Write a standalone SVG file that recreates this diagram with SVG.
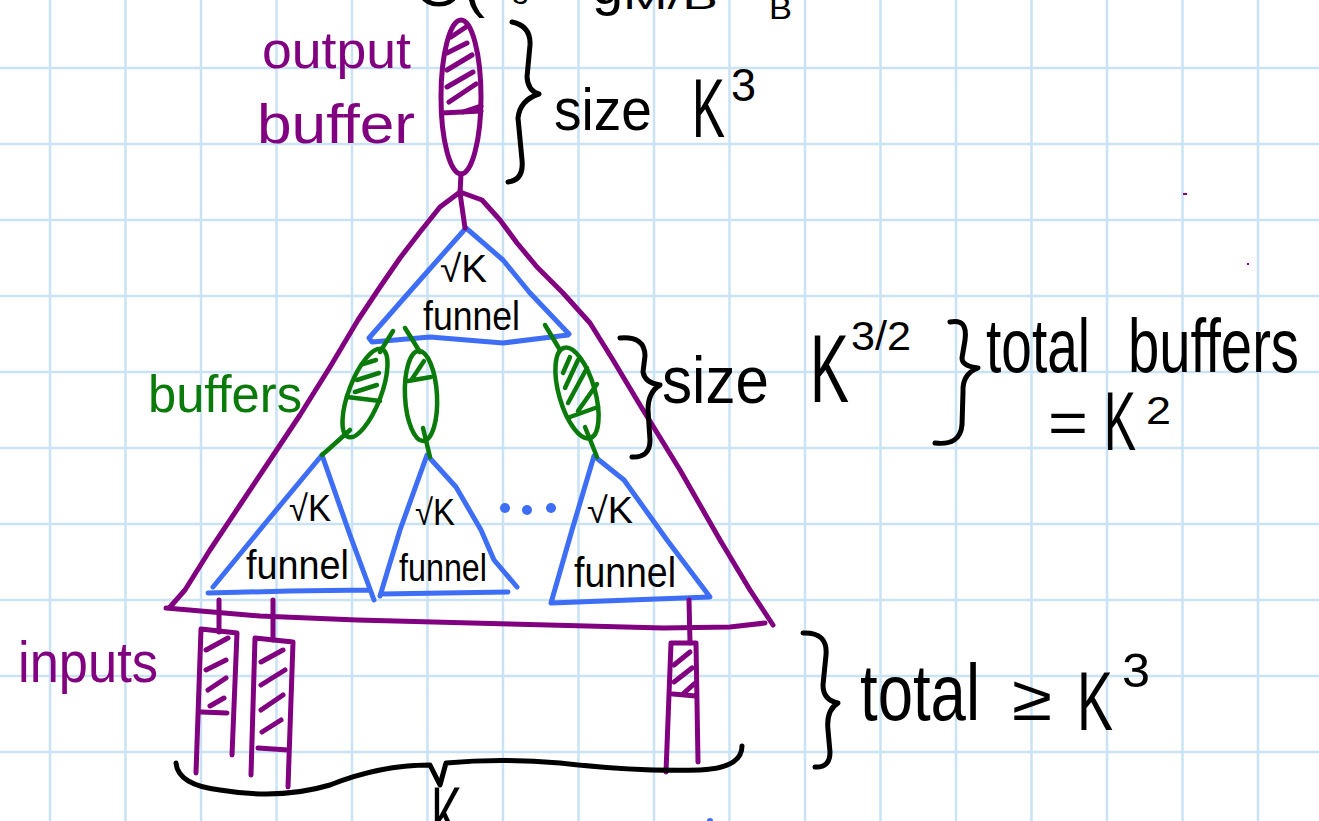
<svg xmlns="http://www.w3.org/2000/svg" width="1319" height="821" viewBox="0 0 1319 821">
<style>
.grid line{stroke:#c9e2f4;stroke-width:2.5}
.p{fill:none;stroke:#800080;stroke-width:5;stroke-linecap:round;stroke-linejoin:round}
.b{fill:none;stroke:#3d6ef5;stroke-width:5;stroke-linecap:round;stroke-linejoin:round}
.g{fill:none;stroke:#0a7a0a;stroke-width:4.5;stroke-linecap:round;stroke-linejoin:round}
.k{fill:none;stroke:#000;stroke-width:5;stroke-linecap:round;stroke-linejoin:round}
text{font-family:"Liberation Sans","DejaVu Sans",sans-serif}
.tk{fill:#000}
.tp{fill:#800080}
.tg{fill:#0a7a0a}
</style>
<rect width="1319" height="821" fill="#fff"/>
<g class="grid">
<line x1="50" y1="0" x2="50" y2="821"/><line x1="125.5" y1="0" x2="125.5" y2="821"/><line x1="201" y1="0" x2="201" y2="821"/><line x1="276.5" y1="0" x2="276.5" y2="821"/><line x1="352" y1="0" x2="352" y2="821"/><line x1="427.5" y1="0" x2="427.5" y2="821"/><line x1="503" y1="0" x2="503" y2="821"/><line x1="578.5" y1="0" x2="578.5" y2="821"/><line x1="654" y1="0" x2="654" y2="821"/><line x1="729.5" y1="0" x2="729.5" y2="821"/><line x1="805" y1="0" x2="805" y2="821"/><line x1="880.5" y1="0" x2="880.5" y2="821"/><line x1="956" y1="0" x2="956" y2="821"/><line x1="1031.5" y1="0" x2="1031.5" y2="821"/><line x1="1107" y1="0" x2="1107" y2="821"/><line x1="1182.5" y1="0" x2="1182.5" y2="821"/><line x1="1258" y1="0" x2="1258" y2="821"/>
<line x1="0" y1="68" x2="1319" y2="68"/><line x1="0" y1="144" x2="1319" y2="144"/><line x1="0" y1="220" x2="1319" y2="220"/><line x1="0" y1="296" x2="1319" y2="296"/><line x1="0" y1="372" x2="1319" y2="372"/><line x1="0" y1="448" x2="1319" y2="448"/><line x1="0" y1="524" x2="1319" y2="524"/><line x1="0" y1="600" x2="1319" y2="600"/><line x1="0" y1="676" x2="1319" y2="676"/><line x1="0" y1="752" x2="1319" y2="752"/>
</g>

<!-- formula cut off by the top edge: only the bottoms of its glyphs show -->
<g id="top-formula" class="tk">
<text x="414" y="6" font-size="60" textLength="71" lengthAdjust="spacingAndGlyphs">O(</text>
<text x="512" y="4" font-size="30">3</text>
<text x="592" y="4" font-size="56">g</text>
<text x="623" y="9" font-size="34" textLength="95" lengthAdjust="spacingAndGlyphs">M/B</text>
<text x="769" y="19" font-size="32" textLength="23" lengthAdjust="spacingAndGlyphs">B</text>
</g>

<g id="output-buffer">
<ellipse class="p" cx="461" cy="97" rx="20" ry="77"/>
<path class="p" d="M442,113 L481,111"/>
<path class="p" d="M451,37 L466,27 M447,53 L467,43 M447,70 L472,55 M447,87 L473,72 M449,102 L476,84 M463,112 L481,106"/>
<text class="tp" x="262" y="68" font-size="52" textLength="149" lengthAdjust="spacingAndGlyphs">output</text>
<text class="tp" x="257" y="143" font-size="56" textLength="158" lengthAdjust="spacingAndGlyphs">buffer</text>
</g>

<g id="big-funnel">
<polyline class="p" points="460,192 440,207 420,232 400,258 380,287 358,320 330,367 300,415 270,460 240,505 210,550 185,590 170,607"/>
<polyline class="p" points="460,192 482,200 500,220 517,243 537,267 563,293 590,323 613,360 640,405 680,470 720,540 750,590 773,625"/>
<polyline class="p" points="166,608 260,616 357,620 510,624 663,628 730,627 765,623"/>
</g>

<g id="top-funnel">
<path class="b" d="M466,228 L420,280 L369,338 L372,342 L430,337 L503,343 L568,335 L569,334 L530,293 L503,260 Z"/>
<text class="tk" x="440" y="282" font-size="38" textLength="47" lengthAdjust="spacingAndGlyphs">√K</text>
<text class="tk" x="423" y="330" font-size="40" textLength="97" lengthAdjust="spacingAndGlyphs">funnel</text>
</g>

<g id="buffer-1">
<ellipse class="g" cx="365" cy="393" rx="16" ry="47" transform="rotate(21 365 393)"/>
<path class="g" d="M347,397 L380,401 M355,392 L377,385 M357,380 L379,373 M363,364 L376,360"/>
</g>
<g id="buffer-2">
<ellipse class="g" cx="421" cy="396" rx="16" ry="45" transform="rotate(-3 421 396)"/>
<path class="g" d="M408,381 L431,377 M412,379 L424,361"/>
</g>
<g id="buffer-3">
<ellipse class="g" cx="577" cy="393" rx="18" ry="47" transform="rotate(-16 577 393)"/>
<path class="g" d="M570,417 L598,407 M563,373 L570,357 M565,388 L578,360 M568,403 L587,368 M578,411 L597,384"/>
</g>
<text class="tg" x="148" y="412" font-size="52" textLength="154" lengthAdjust="spacingAndGlyphs">buffers</text>

<g id="funnel-1">
<path class="b" d="M322,455 L268,520 L213,587 M208,593 L290,591 L369,590 M322,455 L350,535 L374,600"/>
<text class="tk" x="289" y="521" font-size="36" textLength="42" lengthAdjust="spacingAndGlyphs">√K</text>
<text class="tk" x="246" y="579" font-size="40" textLength="103" lengthAdjust="spacingAndGlyphs">funnel</text>
</g>
<g id="funnel-2">
<path class="b" d="M427,455 L400,530 L380,596 M381,594 L508,592 M427,455 L456,487 L481,530 L494,560 L517,587"/>
<text class="tk" x="415" y="525" font-size="36" textLength="40" lengthAdjust="spacingAndGlyphs">√K</text>
<text class="tk" x="399" y="581" font-size="38" textLength="88" lengthAdjust="spacingAndGlyphs">funnel</text>
</g>
<g id="dots" fill="#3d6ef5">
<circle cx="505" cy="508" r="5"/><circle cx="527" cy="510" r="5"/><circle cx="551" cy="508" r="5"/>
</g>
<g id="funnel-3">
<path class="b" d="M594,456 L572,530 L551,603 L630,600 L710,597 L667,540 L624,480 Z"/>
<text class="tk" x="587" y="523" font-size="36" textLength="46" lengthAdjust="spacingAndGlyphs">√K</text>
<text class="tk" x="574" y="587" font-size="42" textLength="102" lengthAdjust="spacingAndGlyphs">funnel</text>
</g>

<g id="input-1">
<path class="p" d="M201,629 L237,633 M201,629 L196,773 M237,633 L232,755 M201,712 L227,713"/>
<path class="p" d="M206,650 L228,638 M206,670 L226,660 M208,690 L226,678 M210,706 L224,698"/>
</g>
<g id="input-2">
<path class="p" d="M255,638 L293,642 M255,638 L251,775 M293,642 L288,787 M258,748 L288,750"/>
<path class="p" d="M261,662 L283,650 M261,685 L285,670 M261,710 L283,695 M262,732 L281,720"/>
</g>
<g id="input-3">
<path class="p" d="M671,643 L696,643 M671,643 L666,772 M696,643 L698,762 M673,694 L696,696"/>
<path class="p" d="M674,665 L690,652 M674,682 L692,668 M684,693 L694,684"/>
</g>
<text class="tp" x="18" y="682" font-size="58" textLength="140" lengthAdjust="spacingAndGlyphs">inputs</text>

<g id="connectors">
<path class="p" d="M461,174 L460,193 L465,228"/>
<path class="g" d="M393,331 L380,352 M350,430 L330,448 L322,455"/>
<path class="g" d="M405,328 L420,352 M423,428 L430,457"/>
<path class="g" d="M545,325 L560,350 M585,427 L597,457"/>
<path class="p" d="M219,600 L219,632 M273,600 L273,640 M689,600 L690,643"/>
</g>

<g id="braces">
<path class="k" d="M512,22 Q531,26 530,45 L527,77 Q528,91 539,94 Q520,100 518,118 L522,160 Q524,180 508,182"/>
<path class="k" d="M620,338 Q645,336 645,356 L643,372 Q645,383 660,385 Q648,392 648,410 L650,440 Q650,458 632,457"/>
<path class="k" d="M950,322 Q968,318 965,340 L962,358 Q962,366 978,368 Q962,374 963,392 L962,425 Q960,446 935,443"/>
<path class="k" d="M803,633 Q828,632 826,655 L823,685 Q823,700 838,703 Q826,710 828,730 L830,752 Q830,768 815,767"/>
<path class="k" d="M176,763 Q178,785 220,790 Q280,800 330,785 Q380,765 430,765 L440,785 L446,763 Q500,758 560,763 Q640,772 700,770 Q742,768 742,746"/>
</g>

<g id="labels" class="tk">
<text x="554" y="130" font-size="60" textLength="98" lengthAdjust="spacingAndGlyphs">size</text>
<text x="692" y="137" font-size="84" textLength="33" lengthAdjust="spacingAndGlyphs">K</text>
<text x="731" y="101" font-size="46" textLength="25" lengthAdjust="spacingAndGlyphs">3</text>
<text x="662" y="403" font-size="66" textLength="107" lengthAdjust="spacingAndGlyphs">size</text>
<text x="810" y="402" font-size="97" textLength="39" lengthAdjust="spacingAndGlyphs">K</text>
<text x="851" y="350" font-size="40" textLength="60" lengthAdjust="spacingAndGlyphs">3/2</text>
<text x="986" y="372" font-size="76" textLength="104" lengthAdjust="spacingAndGlyphs">total</text>
<text x="1128" y="372" font-size="76" textLength="171" lengthAdjust="spacingAndGlyphs">buffers</text>
<text x="1048" y="443" font-size="60" textLength="40" lengthAdjust="spacingAndGlyphs">=</text>
<text x="1104" y="450" font-size="84" textLength="32" lengthAdjust="spacingAndGlyphs">K</text>
<text x="1146" y="424" font-size="38" textLength="25" lengthAdjust="spacingAndGlyphs">2</text>
<text x="860" y="720" font-size="80" textLength="120" lengthAdjust="spacingAndGlyphs">total</text>
<text x="1012" y="720" font-size="64" textLength="40" lengthAdjust="spacingAndGlyphs">≥</text>
<text x="1077" y="730" font-size="84" textLength="36" lengthAdjust="spacingAndGlyphs">K</text>
<text x="1122" y="687" font-size="49" textLength="28" lengthAdjust="spacingAndGlyphs">3</text>
<text x="431" y="845" font-size="84" textLength="31" lengthAdjust="spacingAndGlyphs">K</text>
</g>

<g id="specks">
<rect x="1183" y="193" width="4" height="2" fill="#800080"/>
<rect x="1247" y="263" width="2" height="2" fill="#800080"/>
<circle cx="710" cy="821" r="3" fill="#3d6ef5"/>
</g>
</svg>
